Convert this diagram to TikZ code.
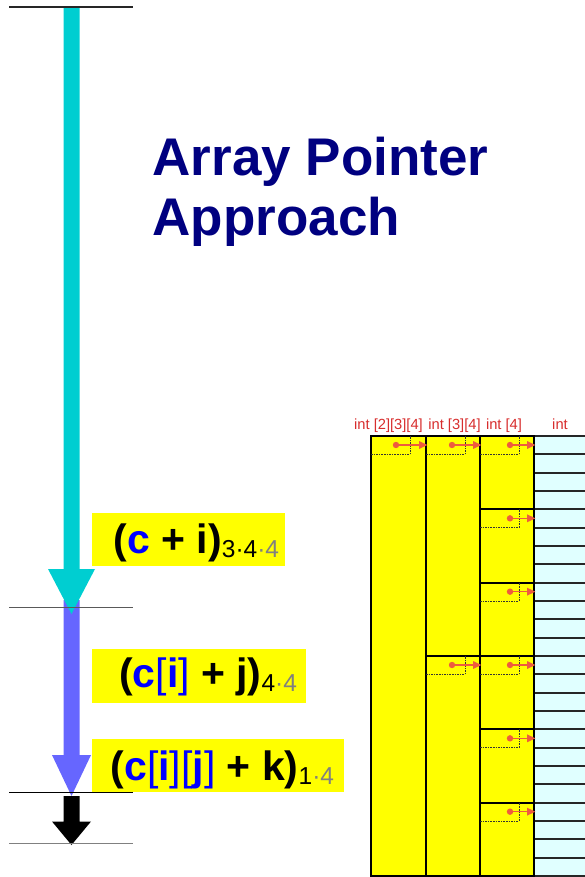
\documentclass[tikz,border=0pt]{standalone}
\usepackage{fontspec}
\setmainfont{Liberation Sans}
\usetikzlibrary{arrows.meta}
\definecolor{arrcyan}{RGB}{0,206,209}
\definecolor{arrblue}{RGB}{102,102,255}
\definecolor{ttlnavy}{RGB}{0,0,128}
\definecolor{hdrred}{RGB}{215,45,45}
\definecolor{ptrred}{RGB}{238,92,62}
\definecolor{cellcyan}{RGB}{224,255,255}
\definecolor{subgray}{RGB}{128,128,128}
\definecolor{cblue}{RGB}{0,0,255}
\definecolor{lblyellow}{RGB}{255,255,0}
\newcommand{\mptr}[4]{%
  \draw[dashbox] (#1,{#2+18.333}) -- ({#1+39},{#2+18.333}) -- ({#1+39},#2);
  \coordinate (pa) at (#3,{#2+9});
  \coordinate (pb) at ({#4+1.5},{#2+9});
  \fill[ptrred] (pa) circle (3.2);
  \draw[ptr] (pa) -- (pb);
}
\newcommand{\bk}[1]{{\mdseries\textcolor{cblue}{#1}}}
\begin{document}
\begin{tikzpicture}[x=1pt,y=-1pt,
  hline/.style={line width=1.3},
  membox/.style={fill=lblyellow,draw=black,line width=2},
  cellbox/.style={fill=cellcyan,draw=black!85,line width=1.8},
  dashbox/.style={draw=black!80,line width=0.9,dash pattern=on 1.6pt off 1pt},
  ptr/.style={draw=ptrred,line width=1.6,-{Triangle[length=8.5pt,width=7.5pt]}},
  hdr/.style={anchor=base,inner sep=0,text=hdrred,font=\fontsize{14.7}{17}\selectfont},
  lblbox/.style={fill=lblyellow,draw=none,anchor=north west,inner sep=0},
  lbltext/.style={anchor=base west,inner sep=0,font=\fontsize{41}{48}\selectfont\bfseries},
  ttl/.style={anchor=base west,inner sep=0,text=ttlnavy,font=\fontsize{53}{60}\selectfont\bfseries}]
\useasboundingbox (0,0) rectangle (585,877);

% ---- vertical arrows ----
\fill[arrblue] (63.5,600) -- (79.5,600) -- (79.5,755) -- (91,755) -- (71.5,796) -- (52,755) -- (63.5,755) -- cycle;
\fill[arrcyan] (63.5,7) -- (79.5,7) -- (79.5,569) -- (95,569) -- (71.5,614) -- (48,569) -- (63.5,569) -- cycle;
\fill[black] (63.5,796) -- (79.5,796) -- (79.5,821.5) -- (91,821.5) -- (71.5,845) -- (52,821.5) -- (63.5,821.5) -- cycle;

% ---- horizontal lines ----
\coordinate (l1a) at (9,7);     \coordinate (l1b) at (133,7);
\coordinate (l2a) at (9,607.7); \coordinate (l2b) at (133,607.7);
\coordinate (l3a) at (9,792.3); \coordinate (l3b) at (133,792.3);
\coordinate (l4a) at (9,843.3); \coordinate (l4b) at (133,843.3);
\draw[hline,black!85] (l1a) -- (l1b);
\draw[hline,black!65] (l2a) -- (l2b);
\draw[hline,black] (l3a) -- (l3b);
\draw[hline,black!50] (l4a) -- (l4b);

% ---- title ----
\node[ttl] (title1) at (152.5,176) {Array Pointer};
\node[ttl] (title2) at (152.5,236) {Approach};

% ---- labels ----
\node[lblbox,minimum width=193.7,minimum height=53.4] (b1) at (91.3,512.3) {};
\node[lbltext] (t1) at (113.5,553) {(\textcolor{cblue}{c} + i){\mdseries\fontsize{24.5}{28}\selectfont\raisebox{-4pt}{3·4\textcolor{subgray}{·4}}}};
\node[lblbox,minimum width=214,minimum height=54] (b2) at (91.7,648.3) {};
\node[lbltext] (t2) at (119,687.5) {(\textcolor{cblue}{c}\bk{[}\textcolor{cblue}{i}\bk{]} + j){\mdseries\fontsize{24.5}{28}\selectfont\raisebox{-4pt}{4\textcolor{subgray}{·4}}}};
\node[lblbox,minimum width=251.6,minimum height=52.7] (b3) at (91.7,739) {};
\node[lbltext] (t3) at (110.5,780.5) {(\textcolor{cblue}{c}\bk{[}\textcolor{cblue}{i}\bk{][}\textcolor{cblue}{j}\bk{]} + k){\mdseries\fontsize{24.5}{28}\selectfont\raisebox{-4pt}{1\textcolor{subgray}{·4}}}};

% ---- memory layout ----
\node[hdr] (h1) at (388.5,429) {int [2][3][4]};
\node[hdr] (h2) at (454.5,429) {int [3][4]};
\node[hdr] (h3) at (504,429) {int [4]};
\node[hdr] (h4) at (560,429) {int};

\begin{scope}
\clip (0,0) rectangle (585,877);
\foreach \k in {0,...,23}
  \draw[cellbox] (534,{436+\k*18.3333}) rectangle (600,{436+(\k+1)*18.3333});
\foreach \k in {0,...,5}
  \draw[membox] (480,{436+\k*73.3333}) rectangle (534,{436+(\k+1)*73.3333});
\foreach \k in {0,1}
  \draw[membox] (426,{436+\k*220}) rectangle (480,{436+(\k+1)*220});
\draw[membox] (371,436) rectangle (426,876);
\mptr{371}{436}{396}{426}
\foreach \k in {0,1}{ \mptr{426}{436+\k*220}{452}{480} }
\foreach \k in {0,...,5}{ \mptr{480}{436+\k*73.3333}{510}{534} }
\end{scope}
\end{tikzpicture}
\end{document}
